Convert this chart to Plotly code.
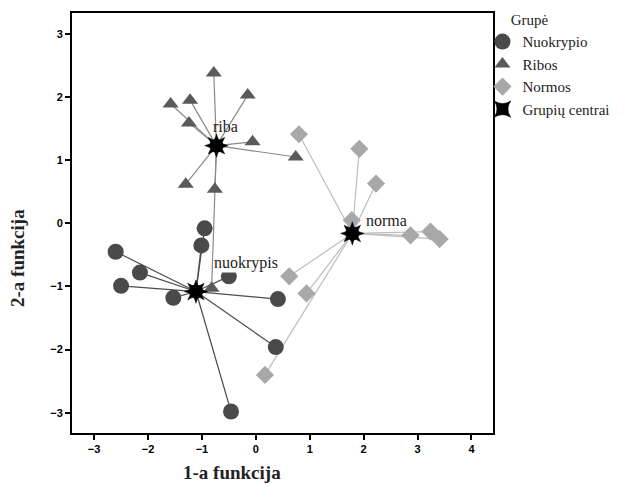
import plotly.graph_objects as go

# Group centroids
centers_x = [-1.11, -0.73, 1.79]
centers_y = [-1.08, 1.23, -0.16]
center_labels = ["nuokrypis", "riba", "norma"]

# Nuokrypio (circles)
nuok_x = [-0.95, -1.01, -2.60, -2.15, -2.50, -1.53, -0.50, 0.41, 0.37, -0.46]
nuok_y = [-0.08, -0.35, -0.45, -0.78, -0.99, -1.18, -0.84, -1.20, -1.96, -2.98]

# Ribos (triangles)
ribos_x = [-0.78, -0.15, -1.22, -1.58, -1.24, -0.06, 0.74, -1.30, -0.76, -0.82]
ribos_y = [2.38, 2.03, 1.95, 1.89, 1.59, 1.29, 1.05, 0.62, 0.54, -1.03]

# Normos (diamonds)
norm_x = [0.80, 1.92, 2.23, 1.78, 2.87, 3.24, 3.41, 0.62, 0.94, 0.17]
norm_y = [1.41, 1.18, 0.63, 0.05, -0.19, -0.13, -0.25, -0.84, -1.11, -2.40]

x_ticks = [-3, -2, -1, 0, 1, 2, 3, 4]
y_ticks = [-3, -2, -1, 0, 1, 2, 3]

fig = go.Figure()

def spokes(xs, ys, cx, cy):
    lx, ly = [], []
    for x, y in zip(xs, ys):
        lx += [cx, x, None]
        ly += [cy, y, None]
    return lx, ly

groups = [
    (nuok_x, nuok_y, 0, "#4d4d4d"),
    (ribos_x, ribos_y, 1, "#8a8a8a"),
    (norm_x, norm_y, 2, "#bdbdbd"),
]
for xs, ys, ci, lc in groups:
    lx, ly = spokes(xs, ys, centers_x[ci], centers_y[ci])
    fig.add_trace(go.Scatter(x=lx, y=ly, mode="lines",
                             line=dict(color=lc, width=1.2),
                             showlegend=False, hoverinfo="skip"))

fig.add_trace(go.Scatter(x=nuok_x, y=nuok_y, mode="markers", name="Nuokrypio",
                         marker=dict(symbol="circle", size=16, color="#4a4a4a",
                                     line=dict(width=0))))
fig.add_trace(go.Scatter(x=ribos_x, y=ribos_y, mode="markers", name="Ribos",
                         marker=dict(symbol="triangle-up", size=14, color="#5a5a5a",
                                     line=dict(width=0))))
fig.add_trace(go.Scatter(x=norm_x, y=norm_y, mode="markers", name="Normos",
                         marker=dict(symbol="diamond", size=14, color="#a8a8a8",
                                     line=dict(width=0))))
fig.add_trace(go.Scatter(x=centers_x, y=centers_y, mode="markers", name="Grupių centrai",
                         marker=dict(symbol="star-square", size=15, color="black",
                                     line=dict(width=0.5, color="black"))))
fig.add_trace(go.Scatter(x=centers_x, y=centers_y, mode="markers", showlegend=False,
                         hoverinfo="skip",
                         marker=dict(symbol="star-square", size=15, color="black", angle=45,
                                     line=dict(width=0.5, color="black"))))

axis_common = dict(showgrid=False, zeroline=False, showline=True, linecolor="black",
                   linewidth=2, mirror=True, ticks="outside", ticklen=5, tickwidth=1.5,
                   tickcolor="black",
                   tickfont=dict(family="Liberation Sans", size=11, color="black",
                                 weight="bold"))

SERIF = "Liberation Serif, Times New Roman, serif"

fig.update_layout(
    width=626, height=487,
    font=dict(family=SERIF, color="#222"),
    margin=dict(l=64, r=141, t=5, b=62, autoexpand=False),
    paper_bgcolor="white", plot_bgcolor="white",
    xaxis=dict(range=[-3.41, 4.40], tickvals=x_ticks, **axis_common),
    yaxis=dict(range=[-3.32, 3.33], tickvals=y_ticks, **axis_common),
    legend=dict(x=0.975, y=1.017, xanchor="left", yanchor="top",
                title=dict(text="\u00a0\u00a0\u00a0\u00a0\u00a0\u00a0\u00a0Grupė",
                           font=dict(family=SERIF, size=15, color="#222")),
                font=dict(family=SERIF, size=15, color="#222"),
                itemwidth=30, tracegroupgap=0, bgcolor="rgba(0,0,0,0)"),
)

label_x = [-0.80, -0.82, 2.02]
label_y = [-0.63, 1.54, 0.05]
for i, lab in enumerate(center_labels):
    fig.add_annotation(x=label_x[i], y=label_y[i], text=lab,
                       showarrow=False, xanchor="left",
                       font=dict(family=SERIF, size=16, color="#222"),
                       bgcolor="white" if i == 0 else "rgba(0,0,0,0)", borderpad=0)

fig.add_annotation(x=(224 - 64) / 421, y=-0.093, xref="paper", yref="paper",
                   text="<b>1-a funkcija</b>", showarrow=False, yanchor="middle",
                   font=dict(family=SERIF, size=19, color="#222"))
fig.add_annotation(x=(10 - 64) / 421, y=(425 - 250) / 420, xref="paper", yref="paper",
                   text="<b>2-a funkcija</b>", showarrow=False, textangle=-90,
                   xanchor="center",
                   font=dict(family=SERIF, size=19, color="#222"))

fig.write_html("out.html")
